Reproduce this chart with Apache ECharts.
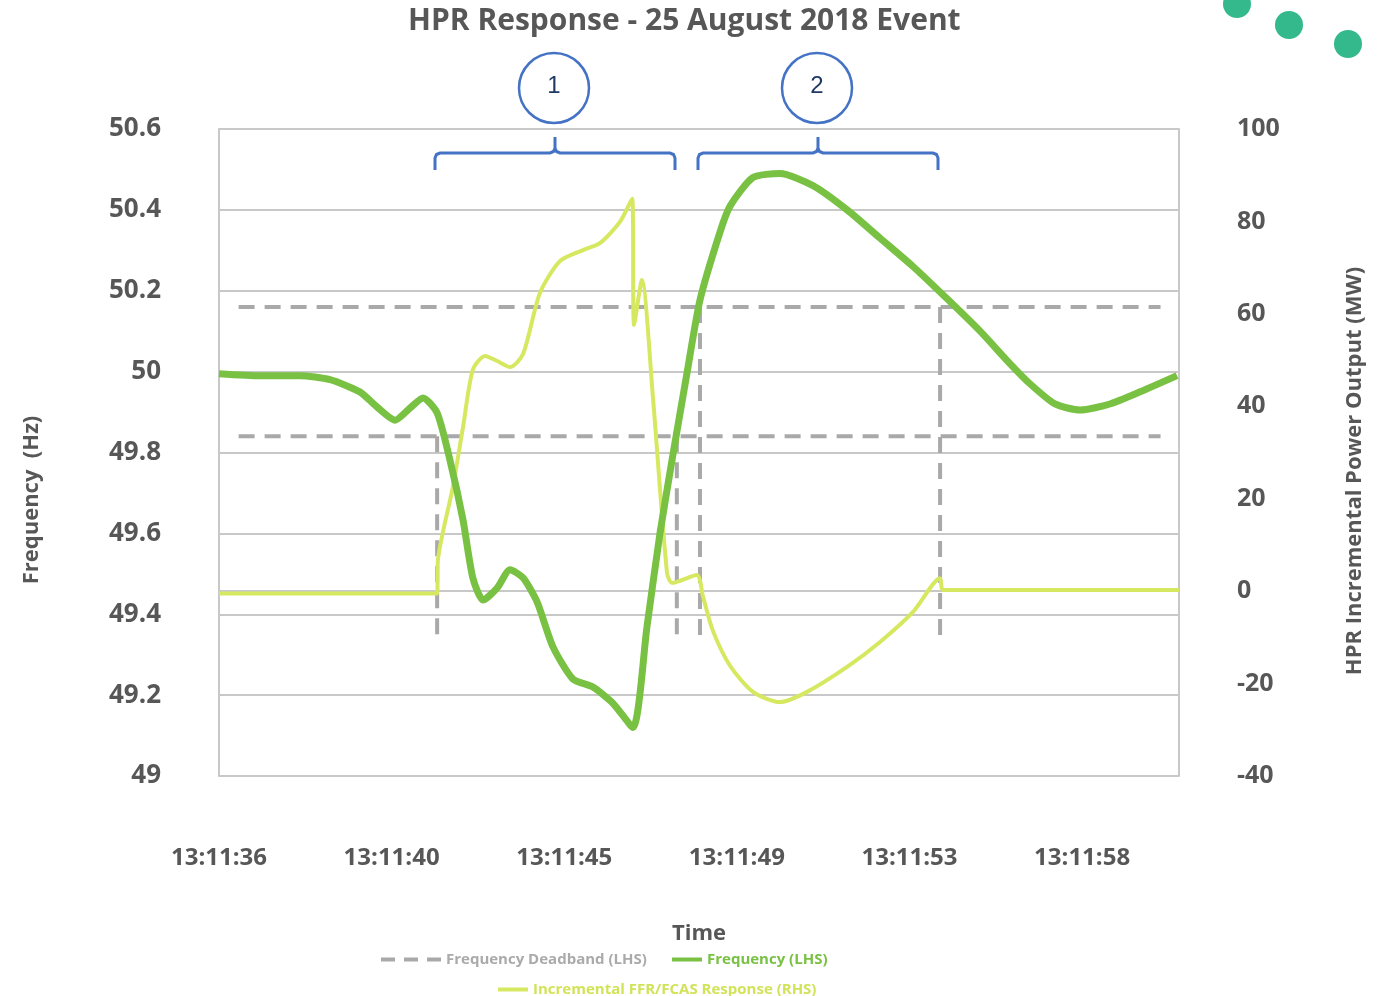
<!DOCTYPE html>
<html>
<head>
<meta charset="utf-8">
<title>HPR Response - 25 August 2018 Event</title>
<script src="https://cdn.jsdelivr.net/npm/echarts@6.0.0/dist/echarts.min.js"></script>
<style>
  html, body { margin: 0; padding: 0; background: #fff; }
  #chart { width: 1380px; height: 996px; }
</style>
</head>
<body>
<div id="chart"></div>
<script>
// tick labels (one every 4.4 s)
var timeLabels = ['13:11:36', '13:11:40', '13:11:45', '13:11:49', '13:11:53', '13:11:58']
var tickStep = 4.4

// frequency (LHS), seconds after 13:11:36
var freqTime = [0, 1.05, 2.06, 2.83, 3.59, 4.00, 4.49, 4.87, 5.20, 5.56, 5.89, 6.22, 6.47, 6.73, 7.09,
  7.42, 7.75, 8.11, 8.51, 9.02, 9.53, 10.04, 10.55, 10.91, 11.24, 11.57, 11.93, 12.26, 12.77, 13.03,
  13.61, 14.30, 15.14, 16.01, 16.85, 17.69, 18.56, 19.40, 20.16, 20.67, 21.31, 21.95, 22.71, 23.48, 24.42]
var freqHz = [49.995, 49.99, 49.99, 49.98, 49.95, 49.915, 49.88, 49.91, 49.935, 49.898, 49.78, 49.633, 49.49, 49.435, 49.465,
  49.51, 49.49, 49.43, 49.32, 49.24, 49.22, 49.18, 49.12, 49.37, 49.60, 49.794, 49.997, 50.177, 50.345, 50.41,
  50.48, 50.49, 50.46, 50.40, 50.33, 50.26, 50.18, 50.10, 50.02, 49.97, 49.92, 49.905, 49.92, 49.95, 49.99]

// incremental FFR/FCAS response (RHS), MW
var ffrTime = [0, 5.56, 5.58, 5.96, 6.22, 6.47, 6.78, 7.09, 7.42, 7.75, 8.18, 8.69, 9.28, 9.71,
  10.22, 10.53, 10.58, 10.78, 11.06, 11.42, 11.55, 12.18, 12.34, 12.59, 13.03, 13.61, 14.30, 14.99, 16.01,
  16.85, 17.69, 18.38, 18.46, 24.47]
var ffrMW = [-0.5, -0.5, 6.7, 22.5, 35.5, 47.9, 50.9, 49.8, 48.5, 51.3, 64.5, 71.4, 73.8, 75.3,
  79.9, 84.9, 57.6, 67.3, 42.0, 3.9, 1.8, 3.5, -1.3, -8.6, -16.2, -21.8, -24.0, -21.8, -16.4,
  -11.0, -4.5, 2.8, 0.25, 0.25]

// deadband (LHS)
var deadbandHz = [50.16, 49.84]
var deadbandSpan = [0.5, 24.0]
var markerTime = [5.56, 11.67, 12.26, 18.38]
var markerTop = [49.84, 49.84, 50.16, 50.16]
var markerBottom = 49.34

var GREEN = '#79c143'
var YELLOW = '#d6e860'
var GREY = '#a9a9a9'
var BLUE = '#4472c4'
var TEXT = '#575757'
var FONT = '"Open Sans", "DejaVu Sans", sans-serif'

function zip(xs, ys) {
  return xs.map(function (x, i) { return [x, ys[i]] })
}

// curly brace over a range, drawn as a polyline
function brace(x0, x1) {
  var mid = (x0 + x1) / 2
  return {
    type: 'polyline',
    z: 10,
    shape: {
      points: [[x0, 170], [x0, 158], [x0 + 1.5, 154.5], [x0 + 5, 153], [mid - 5, 153], [mid - 1.5, 151.5],
        [mid, 148], [mid, 137], [mid, 148], [mid + 1.5, 151.5], [mid + 5, 153], [x1 - 5, 153],
        [x1 - 1.5, 154.5], [x1, 158], [x1, 170]]
    },
    style: { fill: null, stroke: BLUE, lineWidth: 3 }
  }
}

var chart = echarts.init(document.getElementById('chart'))

var deadbandSeries = []
deadbandHz.forEach(function (hz) {
  deadbandSeries.push([[deadbandSpan[0], hz], [deadbandSpan[1], hz]])
})
markerTime.forEach(function (t, i) {
  deadbandSeries.push([[t, markerTop[i]], [t, markerBottom]])
})

var series = deadbandSeries.map(function (d) {
  return {
    name: 'Frequency Deadband (LHS)',
    type: 'line',
    yAxisIndex: 0,
    symbol: 'none',
    silent: true,
    z: 1,
    lineStyle: { color: GREY, width: 4, type: [16, 10] },
    itemStyle: { color: GREY },
    data: d
  }
})

series.push({
  name: 'Incremental FFR/FCAS Response (RHS)',
  type: 'line',
  yAxisIndex: 1,
  smooth: 0.25,
  symbol: 'none',
  z: 2,
  lineStyle: { color: YELLOW, width: 4 },
  itemStyle: { color: YELLOW },
  data: zip(ffrTime, ffrMW)
})

series.push({
  name: 'Frequency (LHS)',
  type: 'line',
  yAxisIndex: 0,
  smooth: 0.22,
  symbol: 'none',
  z: 3,
  lineStyle: { color: GREEN, width: 7 },
  itemStyle: { color: GREEN },
  data: zip(freqTime, freqHz)
})

var legendText = { fontFamily: FONT, fontSize: 15, fontWeight: 'bold' }

var option = {
  backgroundColor: '#fff',
  animation: false,
  title: {
    text: 'HPR Response - 25 August 2018 Event',
    left: 403,
    top: 1,
    textStyle: { color: TEXT, fontFamily: FONT, fontSize: 30, fontWeight: 'bold' }
  },
  grid: { left: 219, right: 201, top: 129, bottom: 220 },
  legend: [{
    left: 376, top: 947, itemWidth: 60, itemHeight: 4,
    icon: 'path://M0,0h14v4h-14z M23,0h14v4h-14z M46,0h14v4h-14z',
    data: [{ name: 'Frequency Deadband (LHS)', textStyle: Object.assign({ color: '#aaaaaa' }, legendText) }]
  }, {
    left: 667, top: 947, itemWidth: 30, itemHeight: 4, icon: 'rect',
    data: [{ name: 'Frequency (LHS)', textStyle: Object.assign({ color: GREEN }, legendText) }]
  }, {
    left: 493, top: 977, itemWidth: 30, itemHeight: 4, icon: 'rect',
    data: [{ name: 'Incremental FFR/FCAS Response (RHS)', textStyle: Object.assign({ color: '#d2e35a' }, legendText) }]
  }],
  xAxis: {
    type: 'value',
    min: 0,
    max: 24.47,
    interval: tickStep,
    axisLine: { show: true, lineStyle: { color: '#c8c8c8', width: 2 } },
    axisTick: { show: false },
    splitLine: { show: false },
    axisLabel: {
      margin: 70,
      color: TEXT,
      fontFamily: FONT,
      fontSize: 24,
      fontWeight: 'bold',
      formatter: function (v) {
        var k = Math.round(v / tickStep)
        if (Math.abs(k * tickStep - v) > 0.01) return ''
        return timeLabels[k] || ''
      }
    }
  },
  yAxis: [{
    type: 'value',
    min: 49,
    max: 50.6,
    interval: 0.2,
    axisLine: { show: true, lineStyle: { color: '#c8c8c8', width: 2 } },
    axisTick: { show: false },
    splitLine: { show: true, lineStyle: { color: '#c8c8c8', width: 2 } },
    axisLabel: { margin: 58, color: TEXT, fontFamily: FONT, fontSize: 26, fontWeight: 'bold' }
  }, {
    type: 'value',
    min: -40,
    max: 100,
    interval: 20,
    position: 'right',
    axisLine: { show: true, lineStyle: { color: '#c8c8c8', width: 2 } },
    axisTick: { show: false },
    splitLine: { show: false },
    axisLabel: { margin: 58, color: TEXT, fontFamily: FONT, fontSize: 25, fontWeight: 'bold' }
  }],
  graphic: [
    // axis names
    { type: 'text', x: 32, y: 500, rotation: Math.PI / 2,
      style: { text: 'Frequency  (Hz)', fill: TEXT, font: 'bold 22px ' + FONT, align: 'center', verticalAlign: 'middle' } },
    { type: 'text', x: 1355, y: 471, rotation: Math.PI / 2,
      style: { text: 'HPR Incremental Power Output (MW)', fill: TEXT, font: 'bold 22px ' + FONT, align: 'center', verticalAlign: 'middle' } },
    { type: 'text', x: 699, y: 934, z: -1,
      style: { text: 'Time', fill: TEXT, font: 'bold 22px ' + FONT, align: 'center', verticalAlign: 'middle' } },
    // numbered circles
    { type: 'circle', shape: { cx: 554, cy: 88, r: 35 }, style: { fill: '#fff', stroke: BLUE, lineWidth: 2.5 } },
    { type: 'text', x: 554, y: 86, style: { text: '1', fill: '#1f3864', font: '24px "Liberation Sans", sans-serif', align: 'center', verticalAlign: 'middle' } },
    { type: 'circle', shape: { cx: 817, cy: 88, r: 35 }, style: { fill: '#fff', stroke: BLUE, lineWidth: 2.5 } },
    { type: 'text', x: 817, y: 86, style: { text: '2', fill: '#1f3864', font: '24px "Liberation Sans", sans-serif', align: 'center', verticalAlign: 'middle' } },
    // braces
    brace(435, 675),
    brace(698, 938),
    // decorative dots
    { type: 'circle', shape: { cx: 1237, cy: 4, r: 14 }, style: { fill: '#33b98c' } },
    { type: 'circle', shape: { cx: 1289, cy: 25, r: 14 }, style: { fill: '#33b98c' } },
    { type: 'circle', shape: { cx: 1348, cy: 44, r: 14 }, style: { fill: '#33b98c' } }
  ],
  series: series
}

chart.setOption(option)
</script>
</body>
</html>
